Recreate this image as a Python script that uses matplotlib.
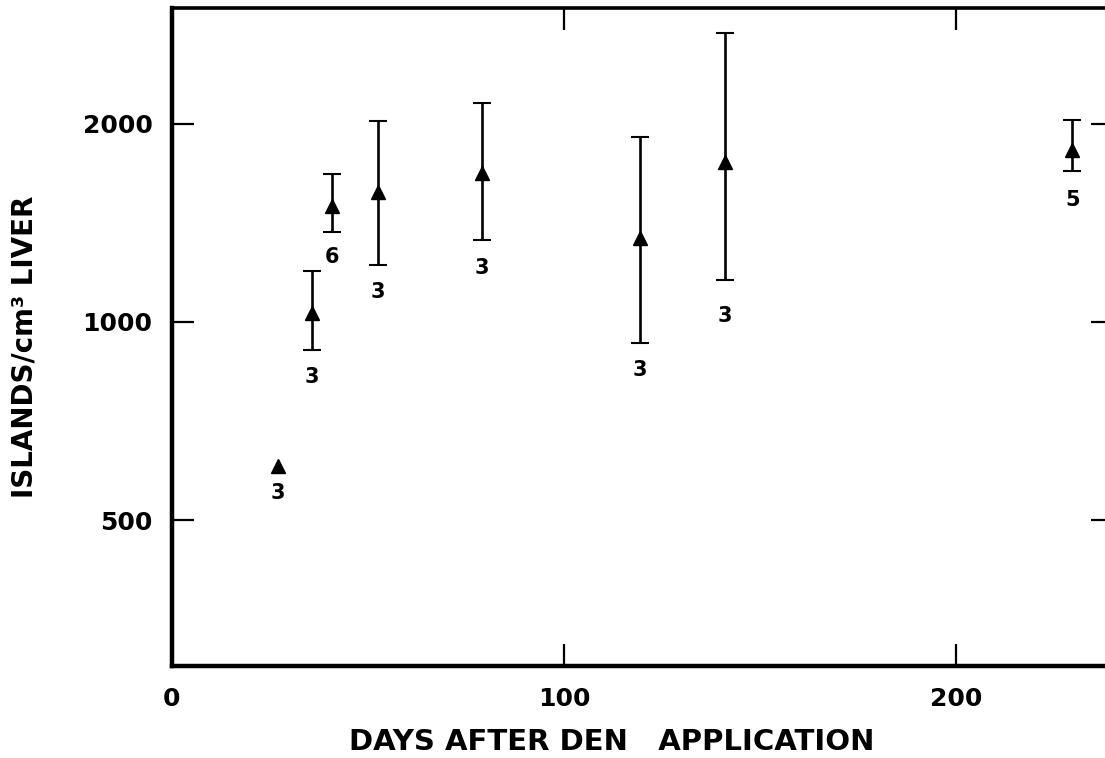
import numpy as np
import matplotlib
matplotlib.use("Agg")
import matplotlib.pyplot as plt

# ---- data ----
days = np.array([27, 35.7, 40.8, 52.6, 79, 119.4, 141, 229.6])
islands = np.array([605, 1030, 1500, 1575, 1685, 1340, 1750, 1825])
upper = np.array([np.nan, 1195, 1680, 2020, 2150, 1910, 2750, 2025])
lower = np.array([np.nan, 908, 1370, 1222, 1330, 930, 1157, 1695])
n_animals = ["3", "3", "6", "3", "3", "3", "3", "5"]
label_offset_pt = [-20, -20, -18, -20, -20, -20, -26, -21]

x_ticks = [0, 100, 200]
y_ticks = [500, 1000, 2000]
y_tick_labels = ["500", "1000", "2000"]

plt.rcParams['font.family'] = ['DejaVu Sans']
plt.rcParams['font.weight'] = 'bold'

W, H = 1105, 758
fig = plt.figure(figsize=(W / 100, H / 100), dpi=100)
left_px, right_px, top_px, bot_px = 172, 1113, 8, 666
ax = fig.add_axes([left_px / W, 1 - bot_px / H, (right_px - left_px) / W, (bot_px - top_px) / H])

ax.set_yscale('log')
ax.set_xlim(0, 240)
ax.set_ylim(300, 3000)

has_err = ~np.isnan(upper)
yerr = np.vstack([islands[has_err] - lower[has_err], upper[has_err] - islands[has_err]])
ax.errorbar(days[has_err], islands[has_err], yerr=yerr, fmt='none', ecolor='black',
            elinewidth=1.9, capsize=6.5, capthick=1.5, zorder=2)
ax.plot(days, islands, linestyle='none', marker='^', markersize=10.5,
        color='black', zorder=3)

for x, y, lo, n, dy in zip(days, islands, lower, n_animals, label_offset_pt):
    base = y if np.isnan(lo) else lo
    ax.annotate(n, xy=(x, base), xytext=(0, dy), textcoords='offset points',
                ha='center', va='center', fontsize=15, fontweight='bold')

ax.yaxis.set_minor_locator(matplotlib.ticker.NullLocator())
ax.xaxis.set_minor_locator(matplotlib.ticker.NullLocator())
ax.set_yticks(y_ticks)
ax.set_yticklabels(y_tick_labels)
ax.set_xticks(x_ticks)
ax.set_xticklabels([str(t) for t in x_ticks])

ax.tick_params(axis='both', which='major', direction='in', length=16, width=1.6,
               labelsize=18, top=True, right=True)
ax.tick_params(axis='y', pad=14)
ax.tick_params(axis='x', pad=15)
for lab in ax.get_xticklabels() + ax.get_yticklabels():
    lab.set_fontweight('bold')

for side in ['left', 'bottom']:
    ax.spines[side].set_linewidth(3.2)
ax.spines['top'].set_linewidth(2.6)
ax.spines['right'].set_linewidth(2.6)

fig.text(612 / W, 1 - 742 / H, "DAYS AFTER DEN   APPLICATION", ha='center', va='center',
         fontsize=21, fontweight='bold')
fig.text(25 / W, 1 - 347 / H, "ISLANDS/cm³ LIVER", ha='center', va='center',
         rotation=90, fontsize=20, fontweight='bold')

fig.savefig("out.png", dpi=100)
